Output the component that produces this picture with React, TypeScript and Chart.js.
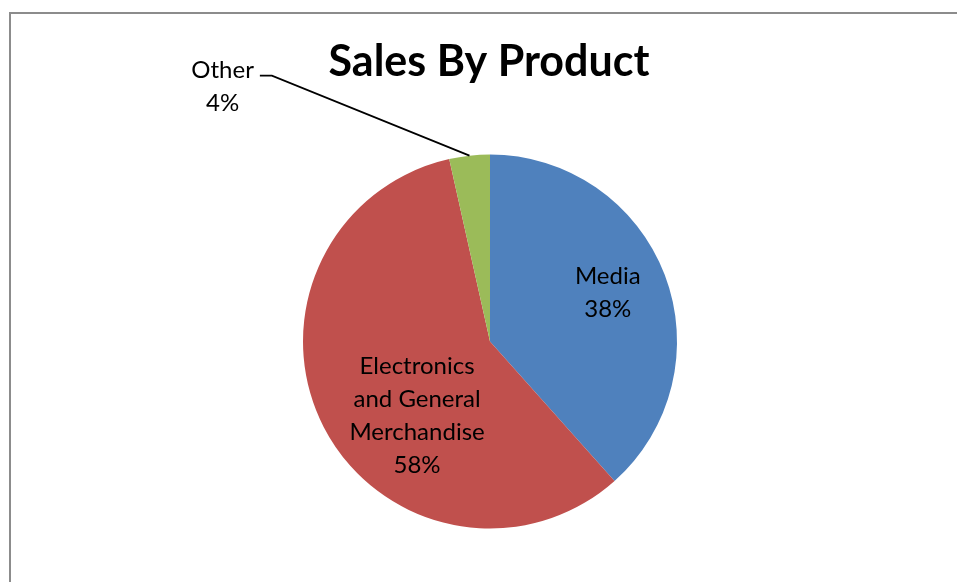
import React, { useEffect, useRef } from "react";
import { Chart, registerables } from "chart.js";

Chart.register(...registerables);

const TITLE = "Sales By Product";
const categories: string[][] = [["Media"], ["Electronics", "and General", "Merchandise"], ["Other"]];
const salesShare: number[] = [38.4, 58.1, 3.5];
const sliceColors: string[] = ["#4F81BD", "#C0504D", "#9BBB59"];

const FONT = "Lato, 'Open Sans', 'DejaVu Sans', sans-serif";

const decorPlugin = {
  id: "decor",
  beforeDraw(chart: any) {
    const ctx = chart.ctx;
    ctx.save();
    ctx.fillStyle = "#ffffff";
    ctx.fillRect(0, 0, chart.width, chart.height);
    ctx.strokeStyle = "#8c8c8c";
    ctx.lineWidth = 2;
    ctx.strokeRect(10, 13, chart.width + 20, chart.height + 20);
    ctx.restore();
  },
  afterDraw(chart: any) {
    const ctx = chart.ctx;
    const meta = chart.getDatasetMeta(0);
    const data = chart.data.datasets[0].data as number[];
    const total = data.reduce((a: number, b: number) => a + b, 0);
    ctx.save();
    // title
    ctx.fillStyle = "#000";
    ctx.font = `bold 43px ${FONT}`;
    ctx.textAlign = "center";
    ctx.textBaseline = "alphabetic";
    ctx.fillText(TITLE, 489, 76);

    // labels
    const offsets = [
      [0.63, -0.26],
      [-0.39, 0.395],
      [-1.43, -1.36],
    ];
    const lineH = 33;
    ctx.font = `24px ${FONT}`;
    ctx.textBaseline = "middle";
    meta.data.forEach((arc: any, i: number) => {
      const { x, y, outerRadius, startAngle, endAngle } = arc.getProps(
        ["x", "y", "outerRadius", "startAngle", "endAngle"],
        true
      );
      const lines = [...categories[i], Math.round((data[i] / total) * 100) + "%"];
      const cx = x + offsets[i][0] * outerRadius;
      const cy = y + offsets[i][1] * outerRadius;
      const top = cy - ((lines.length - 1) * lineH) / 2;
      lines.forEach((ln, k) => ctx.fillText(ln, cx, top + k * lineH));
      if (i === 2) {
        const mid = (startAngle + endAngle) / 2;
        const px = x + Math.cos(mid) * outerRadius;
        const py = y + Math.sin(mid) * outerRadius;
        const w = ctx.measureText(categories[i][0]).width;
        const ly = top + 5;
        const lx = cx + w / 2 + 6;
        ctx.beginPath();
        ctx.strokeStyle = "#000";
        ctx.lineWidth = 1.75;
        ctx.moveTo(px, py);
        ctx.lineTo(lx + 12, ly);
        ctx.lineTo(lx, ly);
        ctx.stroke();
      }
    });
    ctx.restore();
  },
};

export default function App() {
  const ref = useRef<HTMLCanvasElement>(null);
  useEffect(() => {
    if (!ref.current) return;
    const chart = new Chart(ref.current, {
      type: "pie",
      data: {
        labels: categories.map((c) => c.join(" ")),
        datasets: [
          {
            data: salesShare,
            backgroundColor: sliceColors,
            borderWidth: 0,
          },
        ],
      },
      options: {
        responsive: false,
        animation: false,
        layout: { padding: { left: 100, right: 77, top: 154.5, bottom: 53.5 } },
        plugins: {
          legend: { display: false },
          tooltip: { enabled: false },
          title: { display: false },
        },
      },
      plugins: [decorPlugin],
    });
    return () => chart.destroy();
  }, []);
  return (
    <div style={{ position: "fixed", left: 0, top: 0, width: 957, height: 582, background: "#fff" }}>
      <canvas ref={ref} width={957} height={582} style={{ width: 957, height: 582 }} />
    </div>
  );
}
